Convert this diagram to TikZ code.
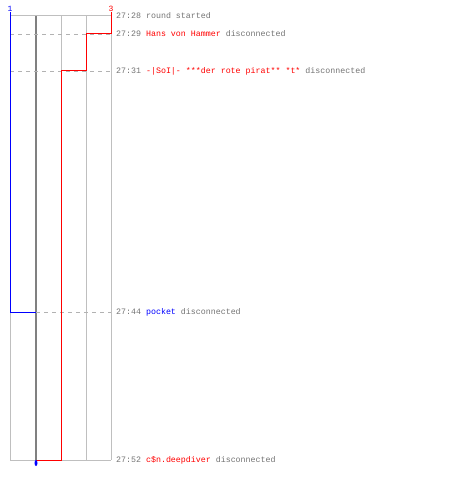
\documentclass[tikz,border=0pt]{standalone}
\usepackage{fontspec}
\setmonofont{Liberation Mono}
\usetikzlibrary{shapes.geometric}
\begin{document}
\begin{tikzpicture}[x=1pt,y=-1pt]

\tikzset{grid/.style = {draw=black!25, line width=1pt}}
\tikzset{mainline/.style = {draw=black!50, line width=2pt}}
\tikzset{guide/.style = {draw=black!30, line width=0.8pt, dash pattern=on 4pt off 4pt}}
\tikzset{track/.style = {line width=1pt}}
\tikzset{event/.style = {anchor=west, inner sep=0pt, font=\ttfamily\fontsize{8.3}{10}\selectfont, text=black!55}}
\tikzset{team/.style = {inner sep=0pt, font=\ttfamily\fontsize{8}{9}\selectfont}}
\useasboundingbox (0,0) rectangle (450,500);
%grid
\foreach \x in {10,61,86,111} \draw[grid] (\x,16) -- (\x,460);
\draw[grid] (10,16) -- (111,16);
\draw[grid] (10,460) -- (111,460);
\draw[mainline] (36,16) -- (36,460);
%events
\node[event] (e0) at (116,16) {27:28 round started};
\node[event] (e1) at (116,34) {27:29 \textcolor{red}{Hans von Hammer} disconnected};
\node[event] (e2) at (116,71) {27:31 \textcolor{red}{-|SoI|- ***der rote pirat** *t*} disconnected};
\node[event] (e3) at (116,312) {27:44 \textcolor{blue}{pocket} disconnected};
\node[event] (e4) at (116,460) {27:52 \textcolor{red}{c\$n.deepdiver} disconnected};
%guides
\coordinate (g1) at (10,34);
\coordinate (g2) at (10,71);
\coordinate (g3) at (36,312);
\draw[guide] (g1) -- ([xshift=-5pt]e1.west);
\draw[guide] (g2) -- ([xshift=-5pt]e2.west);
\draw[guide] (g3) -- ([xshift=-5pt]e3.west);
%teams
\node[team, text=blue] (t1) at (10,9) {1};
\node[team, text=red] (t3) at (111,9) {3};
\draw[track, blue] (t1.south) -- (10,312) -- (g3);
\draw[track, red] (t3.south) -- (111,34) -- (86,34) -- (86,71) -- (61,71) -- (61,460) -- (36,460);
\node[ellipse, fill=blue, inner sep=0pt, minimum width=3pt, minimum height=6pt] (end) at (36,463) {};

\end{tikzpicture}
\end{document}
